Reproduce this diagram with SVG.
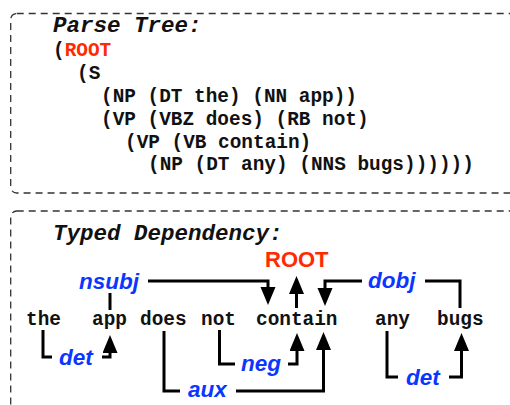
<svg xmlns="http://www.w3.org/2000/svg" width="510" height="405" viewBox="0 0 510 405">
  <style>
    .frame { fill: none; stroke: #333; stroke-width: 1.3; stroke-dasharray: 7 5; }
    .title { font-family: "Liberation Mono", "Courier New", monospace; font-weight: bold; font-style: italic; font-size: 22.5px; fill: #111; }
    .tree { font-family: "Liberation Mono", "Courier New", monospace; font-weight: bold; font-size: 19.4px; fill: #111; }
    .word { font-family: "Liberation Mono", "Courier New", monospace; font-weight: bold; font-size: 19.4px; fill: #111; }
    .rel { font-family: "Liberation Sans", Arial, sans-serif; font-weight: bold; font-style: italic; font-size: 22.5px; fill: #0a36ff; }
    .root { font-family: "Liberation Sans", Arial, sans-serif; font-weight: bold; font-size: 22px; fill: #ff2a00; }
    .red { fill: #ff2a00; }
    .edge { fill: none; stroke: #000; stroke-width: 3; stroke-linejoin: miter; }
  </style>
  <defs>
    <marker id="ah" markerUnits="userSpaceOnUse" markerWidth="19" markerHeight="16" refX="12" refY="7.5" orient="auto">
      <path d="M0,0 L18,7.5 L0,15 z" fill="#000"/>
    </marker>
  </defs>
  <rect width="510" height="405" fill="#fff"/>

  <!-- parse tree panel -->
  <g id="parse-tree">
    <rect class="frame" x="10.7" y="13.5" width="520" height="179.5" rx="6"/>
    <text class="title" x="53" y="32">Parse Tree:</text>
    <text class="tree" x="53" y="55.5">(<tspan class="red">ROOT</tspan></text>
    <text class="tree" x="77" y="78.5">(S</text>
    <text class="tree" x="101" y="101.5">(NP (DT the) (NN app))</text>
    <text class="tree" x="101" y="124.5">(VP (VBZ does) (RB not)</text>
    <text class="tree" x="125" y="147.5">(VP (VB contain)</text>
    <text class="tree" x="148" y="170">(NP (DT any) (NNS bugs))))))</text>
  </g>

  <!-- typed dependency panel -->
  <g id="dependency-panel">
    <rect class="frame" x="10.7" y="211" width="520" height="220" rx="6"/>
    <text class="title" x="53" y="240">Typed Dependency:</text>
  </g>

  <!-- words -->
  <g id="w-the"><text class="word" x="26" y="325">the</text></g>
  <g id="w-app"><text class="word" x="92" y="325">app</text></g>
  <g id="w-does"><text class="word" x="140" y="325">does</text></g>
  <g id="w-not"><text class="word" x="201" y="325">not</text></g>
  <g id="w-contain"><text class="word" x="256" y="325">contain</text></g>
  <g id="w-any"><text class="word" x="375" y="325">any</text></g>
  <g id="w-bugs"><text class="word" x="437" y="325">bugs</text></g>

  <!-- relation labels -->
  <g id="root"><text class="root" x="265" y="267">ROOT</text></g>
  <g id="l-nsubj"><text class="rel" x="79" y="289">nsubj</text></g>
  <g id="l-dobj"><text class="rel" x="368" y="288">dobj</text></g>
  <g id="l-det1"><text class="rel" x="59" y="365">det</text></g>
  <g id="l-neg"><text class="rel" x="241" y="371">neg</text></g>
  <g id="l-aux"><text class="rel" x="188" y="397">aux</text></g>
  <g id="l-det2"><text class="rel" x="406" y="385">det</text></g>

  <!-- dependency arcs -->
  <g id="connectors">
    <path class="edge" d="M110,293 V310"/>
    <path class="edge" d="M148,281 H268 V299" marker-end="url(#ah)"/>
    <path class="edge" d="M296.5,308 V282" marker-end="url(#ah)"/>
    <path class="edge" d="M460,308 V281 H425"/>
    <path class="edge" d="M362,281 H325 V300" marker-end="url(#ah)"/>
    <path class="edge" d="M43,330 V357 H52"/>
    <path class="edge" d="M102,357 H110 V341" marker-end="url(#ah)"/>
    <path class="edge" d="M219.5,330 V364 H235"/>
    <path class="edge" d="M288,364 H297 V339" marker-end="url(#ah)"/>
    <path class="edge" d="M164,331 V391 H180"/>
    <path class="edge" d="M236,391 H323.5 V338" marker-end="url(#ah)"/>
    <path class="edge" d="M387,331 V377 H398"/>
    <path class="edge" d="M449,377 H461.5 V339" marker-end="url(#ah)"/>
  </g>
</svg>
